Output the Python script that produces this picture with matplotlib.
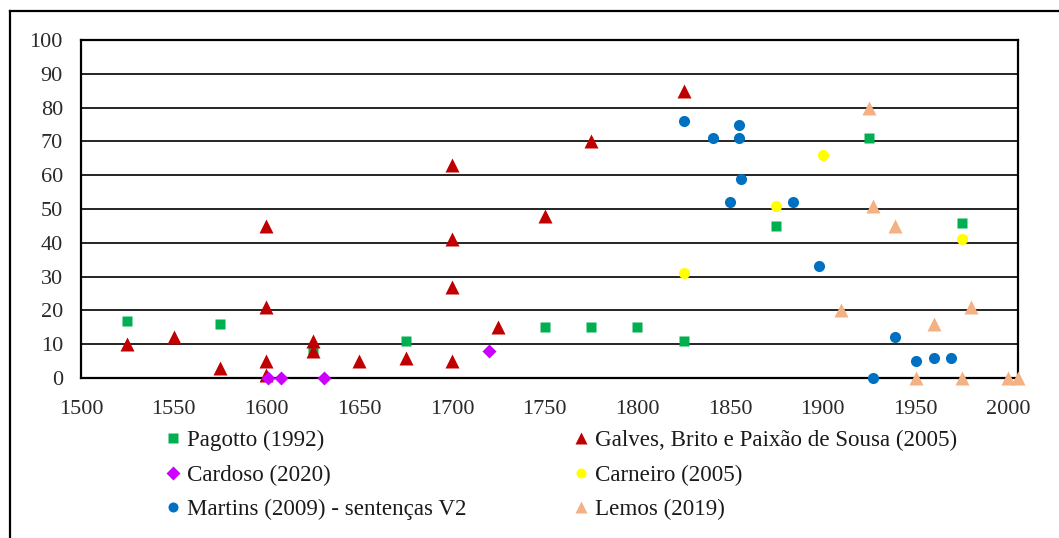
import matplotlib.pyplot as plt
from matplotlib.lines import Line2D

plt.rcParams['font.family'] = ['Liberation Serif', 'DejaVu Serif']

# year / percent values
pagotto_x = [1525, 1575, 1625, 1675, 1750, 1775, 1800, 1825, 1875, 1925, 1975]
pagotto_y = [17, 16, 8, 11, 15, 15, 15, 11, 45, 71, 46]

galves_x = [1525, 1550, 1575, 1600, 1600, 1600, 1600, 1625, 1625, 1650, 1675,
            1700, 1700, 1700, 1700, 1725, 1750, 1775, 1825]
galves_y = [10, 12, 3, 45, 21, 5, 1, 11, 8, 5, 6,
            5, 27, 41, 63, 15, 48, 70, 85]

cardoso_x = [1601, 1608, 1631, 1720]
cardoso_y = [0, 0, 0, 8]

carneiro_x = [1825, 1875, 1900, 1975]
carneiro_y = [31, 51, 66, 41]

martins_x = [1825, 1841, 1855, 1855, 1856, 1850, 1884, 1898, 1927, 1939, 1950, 1960, 1969]
martins_y = [76, 71, 75, 71, 59, 52, 52, 33, 0, 12, 5, 6, 6]

lemos_x = [1910, 1925, 1927, 1939, 1950, 1960, 1975, 1980, 2000, 2005]
lemos_y = [20, 80, 51, 45, 0, 16, 0, 21, 0, 0]

fig = plt.figure(figsize=(10.59, 5.38), dpi=100)
ax = fig.add_axes([81 / 1059, 1 - 378 / 538, (1017.5 - 81) / 1059, (378 - 40) / 538])

ax.plot(pagotto_x, pagotto_y, ls='none', marker='s', ms=7.8, c='#00B050', mec='none',
        clip_on=False, zorder=3, label='Pagotto (1992)')
ax.plot(galves_x, galves_y, ls='none', marker='^', ms=9.6, c='#C00000', mec='none',
        clip_on=False, zorder=4, label='Galves, Brito e Paixão de Sousa (2005)')
ax.plot(cardoso_x, cardoso_y, ls='none', marker='D', ms=7.4, c='#CC00FF', mec='none',
        clip_on=False, zorder=5, label='Cardoso (2020)')
ax.plot(carneiro_x, carneiro_y, ls='none', marker='o', ms=8, c='#FFFF00', mec='none',
        clip_on=False, zorder=6, label='Carneiro (2005)')
ax.plot(martins_x, martins_y, ls='none', marker='o', ms=8, c='#0070C0', mec='none',
        clip_on=False, zorder=7, label='Martins (2009) - sentenças V2')
ax.plot(lemos_x, lemos_y, ls='none', marker='^', ms=9.6, c='#F4B183', mec='none',
        clip_on=False, zorder=8, label='Lemos (2019)')

ax.set_xlim(1500, 2005)
ax.set_ylim(0, 100)
ax.set_xticks(range(1500, 2001, 50))
ax.set_yticks(range(0, 101, 10))
ax.tick_params(length=0, labelsize=16, colors='#2a2a2a')
ax.tick_params(axis='y', pad=13)
ax.tick_params(axis='x', pad=16)
ax.grid(axis='y', color='black', lw=1.2)
ax.set_axisbelow(True)
for s in ax.spines.values():
    s.set_linewidth(1.6)
    s.set_color('black')

# outer chart frame (left and top edges only visible)
fig.add_artist(Line2D([9.5 / 1059, 9.5 / 1059], [-0.05, 1 - 11 / 538], c='black', lw=1.6,
                      transform=fig.transFigure))
fig.add_artist(Line2D([9.5 / 1059, 1.05], [1 - 11 / 538, 1 - 11 / 538], c='black', lw=1.6,
                      transform=fig.transFigure))

h, l = ax.get_legend_handles_labels()
leg_kw = dict(frameon=False, fontsize=16.6, handlelength=0.55, handletextpad=0.3,
              labelspacing=0.58, markerscale=0.9, borderpad=0, borderaxespad=0,
              labelcolor='#1a1a1a')
leg1 = fig.legend([h[0], h[2], h[4]], [l[0], l[2], l[4]], loc='upper left',
                  bbox_to_anchor=(167 / 1059, 1 - 430 / 538), **leg_kw)
leg2 = fig.legend([h[1], h[3], h[5]], [l[1], l[3], l[5]], loc='upper left',
                  bbox_to_anchor=(575 / 1059, 1 - 430 / 538), **leg_kw)

fig.savefig('out.png', dpi=100)
